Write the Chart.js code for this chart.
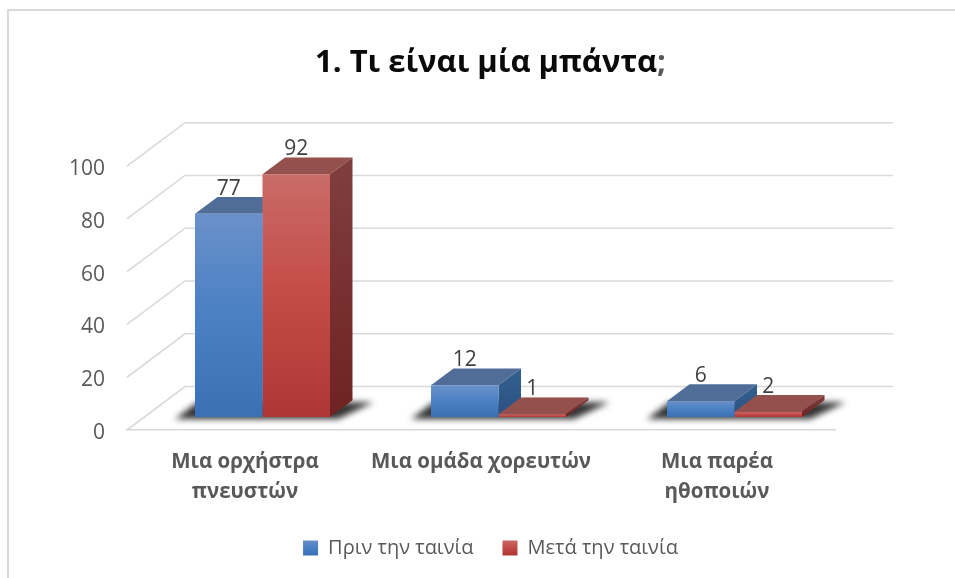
<!DOCTYPE html>
<html><head><meta charset="utf-8">
<style>html,body{margin:0;padding:0;background:#fff}canvas{display:block}</style>
<script src="https://cdn.jsdelivr.net/npm/chart.js@4"></script>
</head><body>
<div style="width:955px;height:578px"><canvas id="c" width="955" height="578"></canvas></div>
<script>
const titleText = '1. Τι είναι μία μπάντα;';
const categories = [['Μια ορχήστρα','πνευστών'],'Μια ομάδα χορευτών',['Μια παρέα','ηθοποιών']];
const seriesNames = ['Πριν την ταινία','Μετά την ταινία'];
const before = [77,12,6];
const after = [92,1,2];
const yTicks = [0,20,40,60,80,100];

const FONT = '"Open Sans", sans-serif';
const DEPTH = {dx:22.5, dy:16.8};      // bar depth
const BACK = {dx:58, dy:43.5};         // wall depth
const FLOOR = {x:17.5, y:-13};         // bars stand inside the floor
const GRID = '#d9d9d9';
const palette = [
  {front:['#6a90c9','#4a80c4','#3a70b4'], top:'#4f6d97', side:['#33608f','#2a5283']},
  {front:['#c96b67','#c44b47','#ae3735'], top:'#93504d', side:['#7f3f3e','#702222']}
];
const c = document.getElementById('c');
const g = c.getContext('2d');
function grad(ctx,y0,y1,stops){
  const l=ctx.createLinearGradient(0,y0,0,y1);
  stops.forEach((s,i)=>l.addColorStop(i/(stops.length-1),s));
  return l;
}
// Title: semicolon in grey, the rest nearly black.
// The title is painted in a context translated to its centre, so the gradient is centre-relative.
const TITLE_FONT = 'bold 31px '+FONT;
g.font = TITLE_FONT;
const tw = g.measureText(titleText).width, semi = g.measureText(titleText.slice(0,-1)).width;
const semiRel = semi - tw/2;
const titleGrad = g.createLinearGradient(-500,0,500,0);
const semiStop = (semiRel+500)/1000;
titleGrad.addColorStop(0,'#0a0a0a');titleGrad.addColorStop(semiStop,'#0a0a0a');
titleGrad.addColorStop(semiStop,'#595959');titleGrad.addColorStop(1,'#595959');

const scene = {
  id:'scene',
  beforeDraw(chart){
    const {ctx}=chart;
    ctx.save();ctx.strokeStyle=GRID;ctx.lineWidth=2;
    ctx.beginPath();ctx.moveTo(8,578);ctx.lineTo(8,10);ctx.lineTo(955,10);ctx.stroke();
    ctx.restore();
    // value-axis labels sit slightly lower than the font's own middle
    const y=chart.scales.y;
    if(!y._nudged){
      const orig=y.drawLabels.bind(y);
      y.drawLabels=area=>{ctx.save();ctx.translate(0,3);orig(area);ctx.restore();};
      y._nudged=true;
    }
  },
  beforeDatasetsDraw(chart){
    const {ctx,scales:{x,y},chartArea:a}=chart;
    ctx.save();
    ctx.strokeStyle=GRID;ctx.lineWidth=1.6;
    yTicks.forEach(t=>{
      const p=y.getPixelForValue(t);
      ctx.beginPath();ctx.moveTo(a.left,p);ctx.lineTo(a.left+BACK.dx,p-BACK.dy);ctx.lineTo(a.right+BACK.dx,p-BACK.dy);ctx.stroke();
    });
    ctx.restore();
    ctx.save();
    ctx.translate(FLOOR.x,FLOOR.y);
    const m0=chart.getDatasetMeta(0).data,m1=chart.getDatasetMeta(1).data;
    // floor shadows
    m0.forEach((b,i)=>{
      const l=b.x-b.width/2,r=m1[i].x+m1[i].width/2,base=y.getPixelForValue(0);
      ctx.save();ctx.filter='blur(3px)';ctx.fillStyle='rgba(0,0,0,.8)';
      ctx.beginPath();ctx.moveTo(l-20,base+2);ctx.lineTo(r+8,base+2);
      ctx.lineTo(r+DEPTH.dx+21,base-DEPTH.dy+2);ctx.lineTo(l+DEPTH.dx-20,base-DEPTH.dy+2);ctx.closePath();ctx.fill();
      ctx.restore();
    });
    // top and side faces
    [0,1].forEach(ds=>{
      chart.getDatasetMeta(ds).data.forEach(b=>{
        const l=b.x-b.width/2,r=b.x+b.width/2,t=b.y,base=b.base;
        ctx.fillStyle=palette[ds].top;
        ctx.beginPath();ctx.moveTo(l,t);ctx.lineTo(l+DEPTH.dx,t-DEPTH.dy);ctx.lineTo(r+DEPTH.dx,t-DEPTH.dy);ctx.lineTo(r,t);ctx.closePath();ctx.fill();
        ctx.fillStyle=grad(ctx,t-DEPTH.dy,base,palette[ds].side);
        ctx.beginPath();ctx.moveTo(r,t);ctx.lineTo(r+DEPTH.dx,t-DEPTH.dy);ctx.lineTo(r+DEPTH.dx,base-DEPTH.dy);ctx.lineTo(r,base);ctx.closePath();ctx.fill();
      });
    });
    // the library's bars (front faces) are drawn next, inside this translation
  },
  afterDatasetsDraw(chart){
    const {ctx}=chart;
    ctx.restore();
    ctx.save();
    ctx.font='21px '+FONT;ctx.fillStyle='#404040';ctx.textAlign='center';ctx.textBaseline='middle';
    [0,1].forEach(ds=>{
      chart.getDatasetMeta(ds).data.forEach((b,i)=>{
        const v=chart.data.datasets[ds].data[i];
        ctx.fillText(String(v),b.x+FLOOR.x,b.y+FLOOR.y-25);
      });
    });
    ctx.restore();
  }
};
function barFill(ds){
  return ctx=>{
    const y=ctx.chart.scales.y;
    const y0=y&&ctx.parsed?y.getPixelForValue(ctx.parsed.y):NaN, y1=y?y.getPixelForValue(0):NaN;
    if(!isFinite(y0)||!isFinite(y1)) return palette[ds].front[1];
    return grad(ctx.chart.ctx,y0,y1,palette[ds].front);
  };
}
new Chart(c,{
  type:'bar',
  data:{labels:categories,datasets:[
    {label:seriesNames[0],data:before,backgroundColor:barFill(0)},
    {label:seriesNames[1],data:after,backgroundColor:barFill(1)}
  ]},
  plugins:[scene],
  options:{
    responsive:false,animation:false,
    layout:{padding:{left:26,right:0,top:0,bottom:10}},
    datasets:{bar:{categoryPercentage:0.572,barPercentage:1,clip:false,borderWidth:0}},
    scales:{
      x:{grid:{display:false,drawTicks:false},border:{color:GRID,width:1.6},
        afterFit:s=>{s.height=79},
        ticks:{autoSkip:false,maxRotation:0,padding:17,color:'#595959',font:{family:FONT,size:20.5,weight:'bold',lineHeight:1.46}}},
      y:{min:0,max:100,grid:{display:false,drawTicks:false},border:{display:false},
        afterFit:s=>{s.width=101},
        afterBuildTicks:s=>{s.ticks=yTicks.map(v=>({value:v}))},
        ticks:{padding:22,color:'#595959',font:{family:FONT,size:21}}},
      spacer:{position:'right',display:true,grid:{display:false,drawTicks:false},border:{display:false},
        ticks:{display:false},afterFit:s=>{s.width=120}}
    },
    plugins:{
      tooltip:{enabled:false},
      title:{display:true,text:titleText,color:titleGrad,font:{family:FONT,size:31,weight:'bold',lineHeight:1.2},padding:{top:45,bottom:84}},
      legend:{position:'bottom',labels:{boxWidth:15,boxHeight:15,padding:29,color:'#595959',font:{family:FONT,size:20},
        generateLabels(chart){
          const base=Chart.defaults.plugins.legend.labels.generateLabels(chart);
          base.forEach((l,i)=>{l.fillStyle=grad(chart.ctx,540,555,palette[i].front);l.strokeStyle='rgba(0,0,0,0)';l.lineWidth=0});
          return base;
        }}}
    }
  }
});
</script>
</body></html>
